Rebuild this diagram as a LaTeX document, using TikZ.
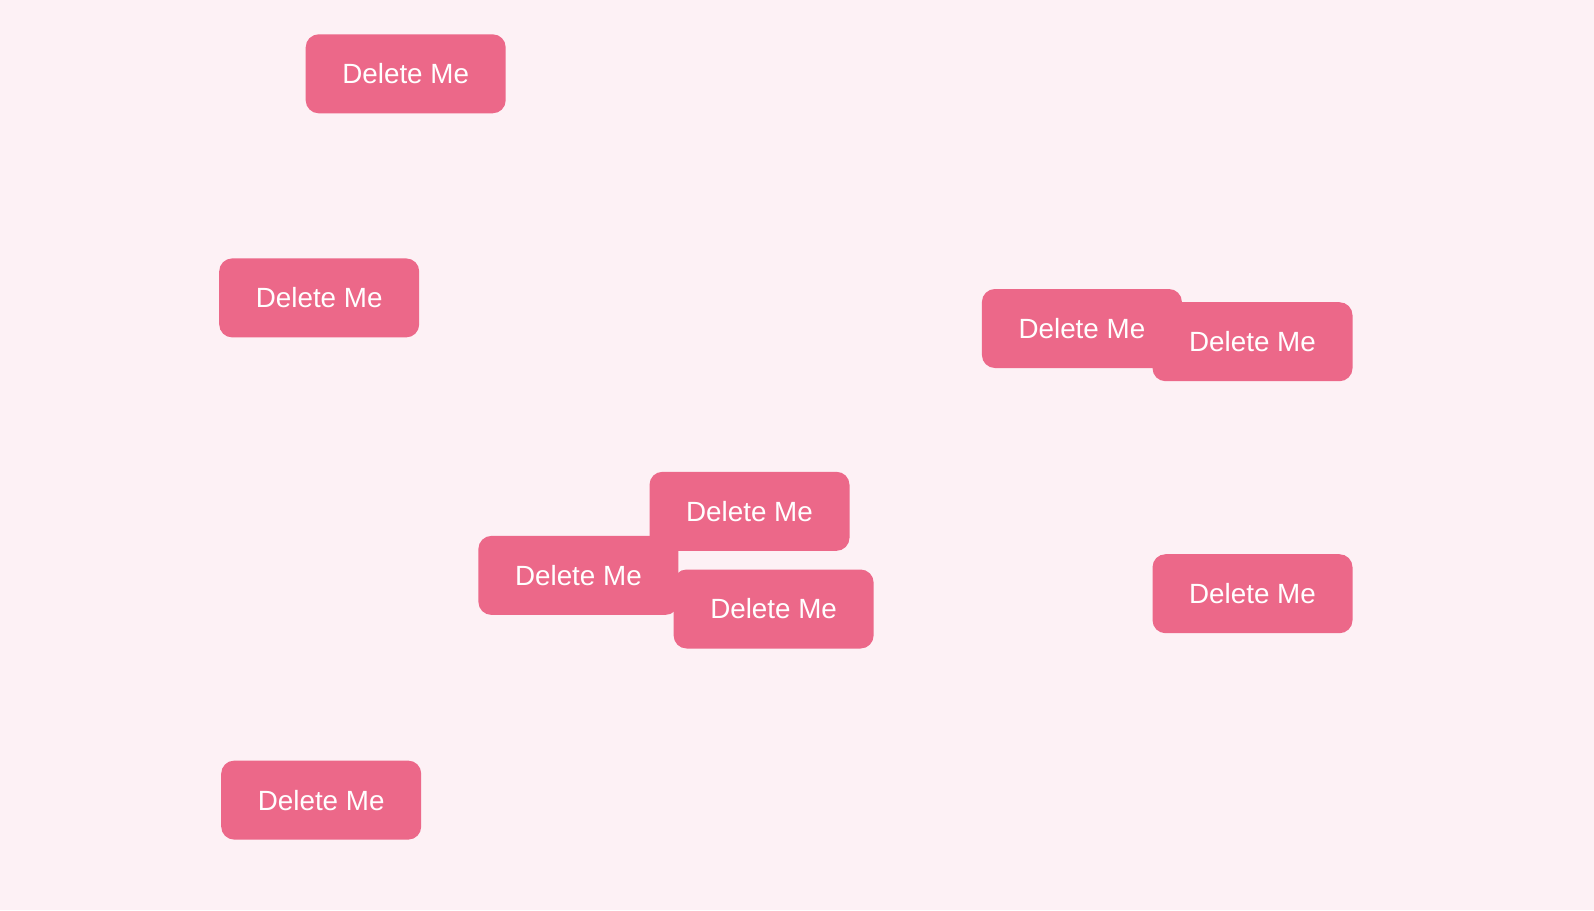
\documentclass[tikz,border=0pt]{standalone}
\usepackage{fontspec}
\setmainfont{Liberation Sans}
\definecolor{pagebg}{HTML}{FDF1F5}
\definecolor{btnpink}{HTML}{EC6889}
\tikzset{
  delbtn/.style={rectangle, rounded corners=13pt, fill=btnpink, text=white,
    minimum width=200pt, minimum height=79pt, inner sep=0pt,
    font=\fontsize{27.8}{32}\selectfont}
}
\begin{document}
\begin{tikzpicture}[x=1pt, y=-1pt]
			\fill[pagebg] (0,0) rectangle (1594,910);
			\useasboundingbox (0,0) rectangle (1594,910);
			\node[delbtn] (top) at (405.7,73.8) {Delete Me};
			\node[delbtn] (upleft) at (319.2,297.9) {Delete Me};
			\node[delbtn] (pairleft) at (1081.9,328.5) {Delete Me};
			\node[delbtn] (pairright) at (1252.5,341.7) {Delete Me};
			\node[delbtn] (midtop) at (749.5,511.3) {Delete Me};
			\node[delbtn] (midleft) at (578.4,575.4) {Delete Me};
			\node[delbtn] (midright) at (773.6,609.0) {Delete Me};
			\node[delbtn] (lowright) at (1252.5,593.7) {Delete Me};
			\node[delbtn] (bottom) at (321.2,800.1) {Delete Me};
\end{tikzpicture}
\end{document}
